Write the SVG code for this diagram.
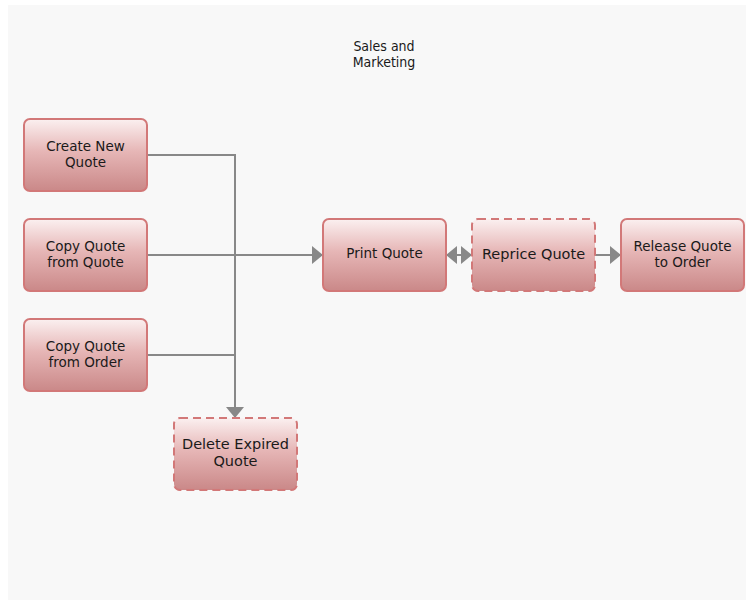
<svg xmlns="http://www.w3.org/2000/svg" width="746" height="600" viewBox="0 0 746 600">
<defs>
<linearGradient id="g" x1="0" y1="0" x2="0" y2="1">
<stop offset="0" stop-color="#fbf0f0"/>
<stop offset="0.45" stop-color="#e6b6b6"/>
<stop offset="1" stop-color="#ca8888"/>
</linearGradient>
<marker id="ah" viewBox="0 0 11 18" refX="11" refY="9" markerWidth="11" markerHeight="18" markerUnits="userSpaceOnUse" orient="auto-start-reverse">
<path d="M0,0 L11,9 L0,18 z" fill="#888"/>
</marker>
<style>
.n{fill:url(#g);stroke:#d27878;stroke-width:2}
.d{stroke-dasharray:8,5}
.t{font-family:"DejaVu Sans",sans-serif;font-size:13.5px;fill:#1a1a1a;text-anchor:middle}
.dt{font-size:14.5px}
.h{font-family:"DejaVu Sans Condensed","DejaVu Sans",sans-serif;font-size:14px;fill:#1a1a1a;text-anchor:middle}
.c{fill:none;stroke:#888;stroke-width:2}
</style>
</defs>
<rect x="0" y="0" width="746" height="600" fill="#fff"/>
<rect x="8" y="5" width="738" height="595" fill="#f8f8f8"/>
<text class="h" x="384" y="51">Sales and</text>
<text class="h" x="384" y="67">Marketing</text>
<g id="connectors">
<path class="c" d="M147,155 H235 V418" marker-end="url(#ah)"/>
<path class="c" d="M147,355 H235"/>
<path class="c" d="M147,255 H323" marker-end="url(#ah)"/>
<path class="c" d="M446,255 H472" marker-start="url(#ah)" marker-end="url(#ah)"/>
<path class="c" d="M595,255 H621" marker-end="url(#ah)"/>
</g>
<g id="create-new-quote">
<rect class="n" x="24" y="119" width="123" height="72" rx="6"/>
<text class="t" x="85.5" y="151">Create New</text>
<text class="t" x="85.5" y="167">Quote</text>
</g>
<g id="copy-quote-from-quote">
<rect class="n" x="24" y="219" width="123" height="72" rx="6"/>
<text class="t" x="85.5" y="251">Copy Quote</text>
<text class="t" x="85.5" y="267">from Quote</text>
</g>
<g id="copy-quote-from-order">
<rect class="n" x="24" y="319" width="123" height="72" rx="6"/>
<text class="t" x="85.5" y="351">Copy Quote</text>
<text class="t" x="85.5" y="367">from Order</text>
</g>
<g id="delete-expired-quote">
<rect class="n d" x="174" y="418" width="123" height="72" rx="6"/>
<text class="t dt" x="235.5" y="449">Delete Expired</text>
<text class="t dt" x="235.5" y="466">Quote</text>
</g>
<g id="print-quote">
<rect class="n" x="323" y="219" width="123" height="72" rx="6"/>
<text class="t" x="384.5" y="258">Print Quote</text>
</g>
<g id="reprice-quote">
<rect class="n d" x="472" y="219" width="123" height="72" rx="6"/>
<text class="t dt" x="533.5" y="259">Reprice Quote</text>
</g>
<g id="release-quote-to-order">
<rect class="n" x="621" y="219" width="123" height="72" rx="6"/>
<text class="t" x="682.5" y="251">Release Quote</text>
<text class="t" x="682.5" y="267">to Order</text>
</g>
</svg>
